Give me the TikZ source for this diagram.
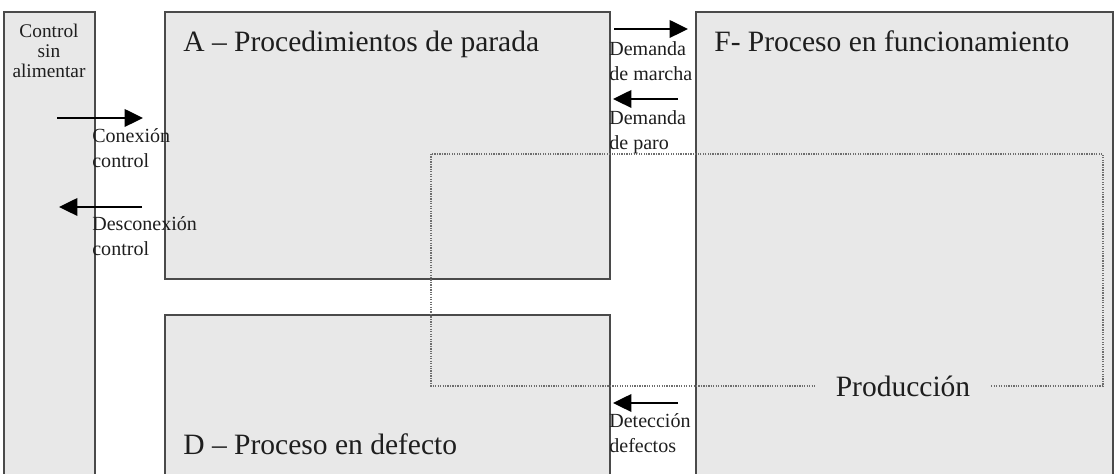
\documentclass[tikz,border=0pt]{standalone}
\usepackage{fontspec}
\setmainfont{Liberation Serif}
\usetikzlibrary{arrows.meta}

\definecolor{fondo}{HTML}{E8E8E8}
\definecolor{borde}{HTML}{4A4A4A}
\definecolor{texto}{HTML}{1E1E1E}

\tikzset{
    caja/.style={draw=borde, fill=fondo, line width=0.9pt, anchor=north west, inner sep=0pt},
    flecha/.style={line width=1.2pt, -{Triangle[length=10.5pt, width=10pt]}},
    etiqueta/.style={anchor=north west, inner sep=0pt, align=left, text=texto,
        font=\fontsize{11.4}{14.2}\selectfont},
    titulo/.style={anchor=base west, inner sep=0pt, text=texto,
        font=\fontsize{16.8}{20}\selectfont},
    zona/.style={draw=borde!80, line width=0.6pt, dash pattern=on 0.7pt off 0.7pt},
}

\begin{document}
\begin{tikzpicture}
        \useasboundingbox (0, 0) rectangle (22.32, 9.48);
        \clip (0, 0) rectangle (22.32, 9.48);

        % estados (las cajas de abajo quedan abiertas)
        \node[caja, minimum width=1.82cm, minimum height=9.8cm] (ctrl) at (0.06, 9.26) {};
        \node[caja, minimum width=8.9cm, minimum height=5.34cm] (A) at (3.28, 9.26) {};
        \node[caja, minimum width=8.9cm, minimum height=3.6cm] (D) at (3.28, 3.2) {};
        \node[caja, minimum width=8.34cm, minimum height=9.8cm] (F) at (13.9, 9.26) {};

        \node[anchor=north, inner sep=0pt, align=center, text=texto,
            font=\fontsize{11}{11.4}\selectfont] (tctrl) at (0.98, 9.0)
            {Control\\sin\\alimentar};
        \node[titulo] (tA) at (3.66, 8.44) {A -- Procedimientos de parada};
        \node[titulo] (tF) at (14.28, 8.44) {F- Proceso en funcionamiento};
        \node[titulo] (tD) at (3.66, 0.38) {D -- Proceso en defecto};

        % zona de produccion
        \draw[zona] (8.62, 6.4) rectangle (22.06, 1.76);
        \node[titulo, anchor=center, fill=fondo, inner xsep=0.42cm, inner ysep=2pt]
            (prod) at (18.06, 1.76) {Producción};

        % transiciones
        \coordinate (con1) at (1.14, 7.12);
        \coordinate (con2) at (2.86, 7.12);
        \coordinate (des1) at (2.84, 5.34);
        \coordinate (des2) at (1.18, 5.34);
        \coordinate (mar1) at (12.28, 8.9);
        \coordinate (mar2) at (13.76, 8.9);
        \coordinate (par1) at (13.56, 7.5);
        \coordinate (par2) at (12.26, 7.5);
        \coordinate (det1) at (13.56, 1.42);
        \coordinate (det2) at (12.26, 1.42);

        \draw[flecha] (con1) -- (con2);
        \draw[flecha] (des1) -- (des2);
        \draw[flecha] (mar1) -- (mar2);
        \draw[flecha] (par1) -- (par2);
        \draw[flecha] (det1) -- (det2);

        \node[etiqueta] (lcon) at (1.84, 6.92) {Conexión\\control};
        \node[etiqueta] (ldes) at (1.84, 5.16) {Desconexión\\control};
        \node[etiqueta] (lmar) at (12.18, 8.66) {Demanda\\de marcha};
        \node[etiqueta] (lpar) at (12.18, 7.28) {Demanda\\de paro};
        \node[etiqueta] (ldet) at (12.18, 1.22) {Detección\\defectos};
    \end{tikzpicture}
\end{document}
